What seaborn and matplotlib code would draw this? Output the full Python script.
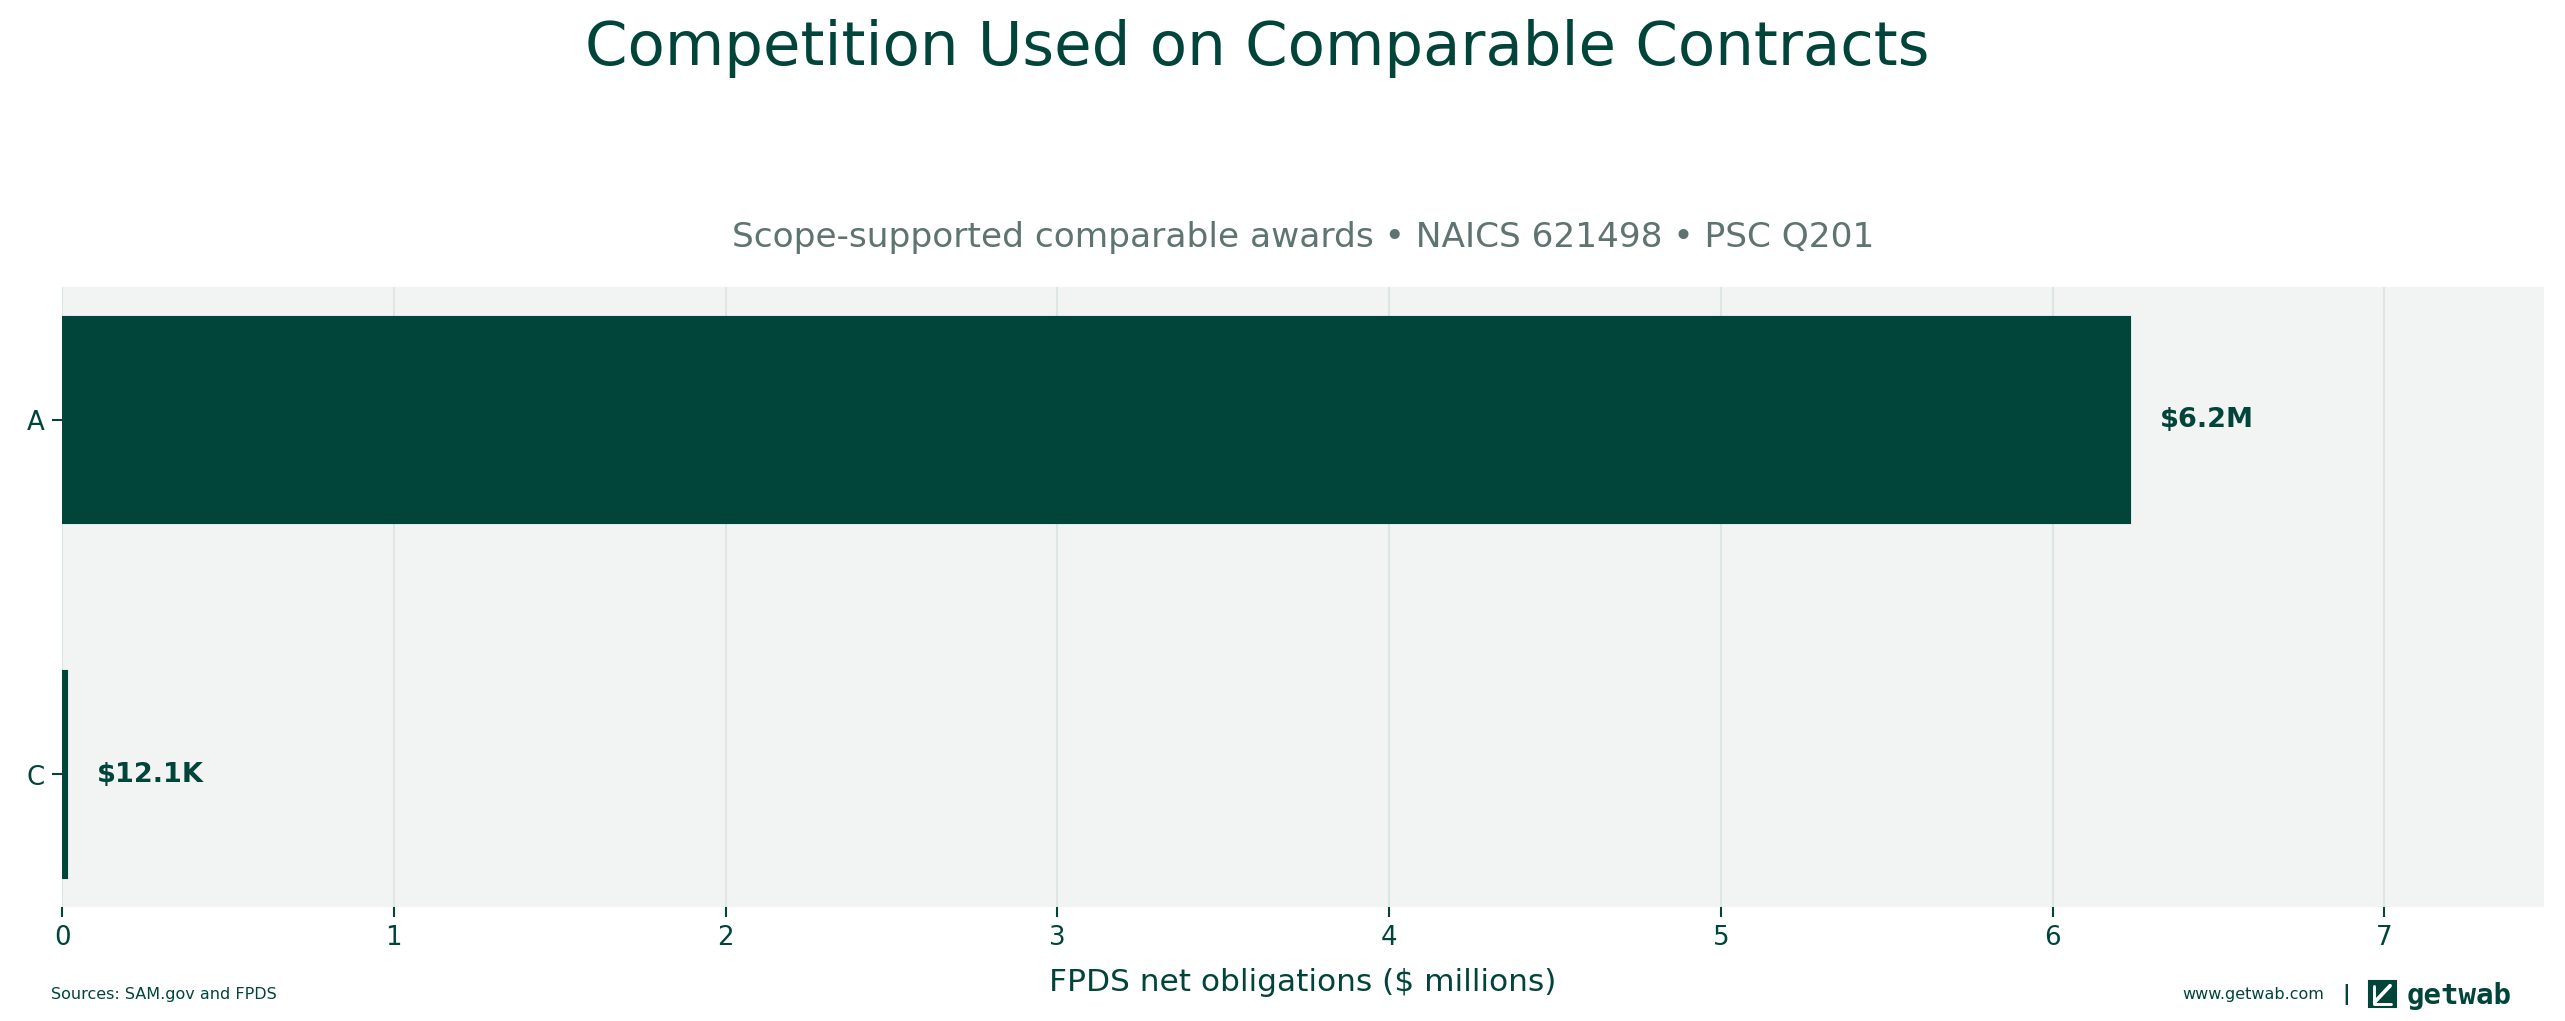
import pandas as pd
import matplotlib.pyplot as plt
import seaborn as sns
from matplotlib.patches import Rectangle

# chart values (millions of dollars)
categories = ['A', 'C']
obligations = [6.23, 0.0121]
value_labels = ['$6.2M', '$12.1K']

dark_green = '#00443a'
grey_text = '#5e7470'

df = pd.DataFrame({'competition': categories, 'obligations': obligations})

sns.set_theme(style='white')
plt.rcParams['font.family'] = ['DejaVu Sans']

fig = plt.figure(figsize=(17.1, 6.813), dpi=150)
ax = fig.add_axes([0.0242, 0.112, 0.9675, 0.606])
ax.set_facecolor('#f2f4f3')

sns.barplot(data=df, x='obligations', y='competition', orient='h',
            color=dark_green, saturation=1, width=0.58, ax=ax,
            edgecolor=dark_green, linewidth=1.5)

# value labels next to bars
for i, (v, lab) in enumerate(zip(obligations, value_labels)):
    ax.annotate(lab, xy=(v, i), xytext=(15, 0), textcoords='offset points',
                ha='left', va='center', fontsize=13, fontweight='bold',
                color=dark_green)

ax.set_xlim(0, 7.48)
ax.set_ylim(1.373, -0.373)
ax.set_xticks(range(0, 8))
ax.grid(axis='x', color='#dce7e3', linewidth=1)
ax.set_axisbelow(True)
for s in ax.spines.values():
    s.set_visible(False)

ax.tick_params(axis='both', colors=dark_green, labelsize=12.5, length=5,
               width=1, bottom=True, left=True)
ax.set_xlabel('FPDS net obligations ($ millions)', fontsize=15,
              color=dark_green, labelpad=8)
ax.set_ylabel('')

ax.set_title('Scope-supported comparable awards • NAICS 621498 • PSC Q201',
             fontsize=16.5, color=grey_text, pad=20)
fig.suptitle('Competition Used on Comparable Contracts', fontsize=29.3,
             color=dark_green, x=0.49, y=0.953, va='center')

# footer
fig.text(0.0198, 0.027, 'Sources: SAM.gov and FPDS', fontsize=7.7,
         color=dark_green, ha='left', va='center')
fig.text(0.906, 0.027, 'www.getwab.com', fontsize=7.7, color=dark_green,
         ha='right', va='center')
fig.text(0.9145, 0.027, '|', fontsize=10, color=dark_green, fontweight='bold',
         ha='center', va='center')
fig.patches.append(Rectangle((0.9236, 0.0137), 0.0105, 0.0254,
                             transform=fig.transFigure, color=dark_green))
fig.lines.append(plt.Line2D([0.9258, 0.9318], [0.0185, 0.0345],
                            transform=fig.transFigure, color='white', lw=1.8))
fig.lines.append(plt.Line2D([0.9255, 0.9255, 0.932], [0.034, 0.017, 0.017],
                            transform=fig.transFigure, color='white', lw=1.4))
fig.text(0.9384, 0.0254, 'getwab', fontsize=14, color=dark_green,
         ha='left', va='center', family='DejaVu Sans Mono', fontweight='bold')

fig.savefig('out.png', dpi=150)
